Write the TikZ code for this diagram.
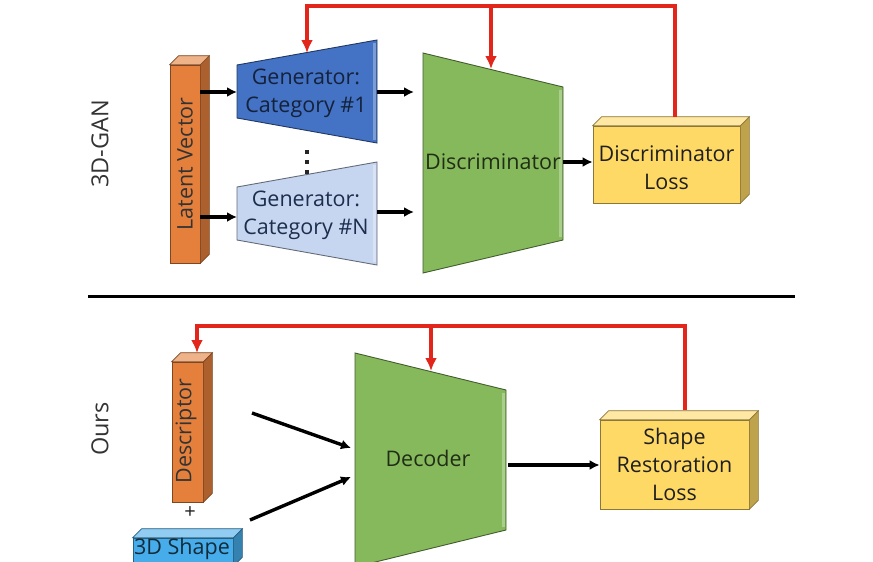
\documentclass[tikz,border=0pt]{standalone}
\usepackage{fontspec}
\setmainfont{Open Sans}
\usetikzlibrary{arrows.meta}
\definecolor{orng}{HTML}{E5803C}
\definecolor{genA}{HTML}{4472C4}
\definecolor{genB}{HTML}{C7D6F0}
\definecolor{grn}{HTML}{86B95B}
\definecolor{ylw}{HTML}{FFD966}
\definecolor{shp}{HTML}{47ACEA}
\definecolor{fbred}{HTML}{E2261C}

\begin{document}
\begin{tikzpicture}[
  x=1pt, y=-1pt,
  every node/.style={font=\fontsize{21.5}{28}\selectfont, text=black!88},
  face/.style={draw=#1!55!black, fill=#1, line width=0.7pt, inner sep=0pt},
  trap/.style={draw=#1!50!black, fill=#1, line width=0.9pt, line join=miter},
  bevel/.style={draw=#1!70!white, line width=2.2pt},
  flow/.style={-{Latex[length=10pt,width=10pt]}, line width=3.4pt},
  fb/.style={-{Latex[length=13pt,width=12pt]}, line width=3.6pt, draw=fbred},
  lbl/.style={rotate=90, text=black!80}
  ]
  \clip (0,0) rectangle (873,562);
  \fill[white] (0,0) rectangle (873,562);

  \node[face=orng, minimum width=30, minimum height=198] (LV) at (185,164) {};
  \node[face=ylw, minimum width=147, minimum height=77] (DL) at (666.5,164.5) {};
  \node[face=orng, minimum width=31, minimum height=140] (DS) at (187.5,432) {};
  \node[face=shp, minimum width=100, minimum height=28] (SH) at (183,552) {};
  \node[face=ylw, minimum width=149, minimum height=89] (SR) at (674.5,464.5) {};

  \foreach \n/\c in {LV/orng, DL/ylw, DS/orng, SH/shp, SR/ylw} {
    \filldraw[draw=\c!55!black, fill=\c!75!black, line width=0.7pt]
      (\n.north east) -- ++(9,-9) -- ([shift={(9,-9)}]\n.south east) -- (\n.south east) -- cycle;
    \filldraw[draw=\c!55!black, fill=\c!60!white, line width=0.7pt]
      (\n.north west) -- ++(9,-9) -- ([shift={(9,-9)}]\n.north east) -- (\n.north east) -- cycle;
  }

  \draw[trap=genA] (237,65) -- (377,40) -- (377,143) -- (237,118) -- cycle;
  \draw[bevel=genA] (374.5,43) -- (374.5,140);
  \draw[trap=genB] (237,187) -- (377,162) -- (377,265) -- (237,240) -- cycle;
  \draw[bevel=genB] (374.5,165) -- (374.5,262);
  \draw[trap=grn] (423,53) -- (563,87) -- (563,240) -- (423,273) -- cycle;
  \draw[bevel=grn] (560.5,90) -- (560.5,237);
  \draw[trap=grn] (355,353) -- (506,390) -- (506,530) -- (355,567) -- cycle;
  \draw[bevel=grn] (503.5,393) -- (503.5,527);

  \foreach \y in {152,162,172}
    \fill[black!85] (304.8,\y-2.3) rectangle ++(4.6,4.6);

  \node[lbl] (LVt) at (185,164) {Latent Vector};
  \node[align=center, text=genA!30!black] (G1) at (306,93) {Generator:\\Category \#1};
  \node[align=center, text=genA!40!black] (GN) at (306,215) {Generator:\\Category \#N};
  \node[text=grn!25!black] (D) at (493,162) {Discriminator};
  \node[align=center] (DLt) at (666.5,168) {Discriminator\\Loss};
  \node[lbl, font=\fontsize{23.5}{28}\selectfont] (GAN) at (100,144) {3D-GAN};

  \node[lbl] (DSt) at (186,431) {Descriptor};
  \node[font=\fontsize{20}{20}\selectfont] (Plus) at (190,513) {+};
  \node[text=shp!25!black] (SHt) at (182,549) {3D Shape};
  \node[text=grn!25!black] (Dec) at (428,458) {Decoder};
  \node[align=center] (SRt) at (674.5,464) {Shape\\Restoration\\Loss};
  \node[lbl, font=\fontsize{23.5}{28}\selectfont] (Ours) at (100,429) {Ours};

  \coordinate (G1in) at (237,92);
  \coordinate (GNin) at (237,217);
  \coordinate (G1out) at (377,92);
  \coordinate (GNout) at (377,212);
  \coordinate (D1in) at (414,92);
  \coordinate (D2in) at (414,212);
  \coordinate (Dout) at (563,162);
  \coordinate (DLtop) at (675,117);
  \coordinate (FBtop) at (675,6);
  \coordinate (G1fb) at (307,53);
  \coordinate (Dfb) at (491,69);
  \coordinate (SepL) at (88,296);
  \coordinate (SepR) at (795,296);
  \coordinate (DSa) at (252,413);
  \coordinate (SHa) at (250,520);
  \coordinate (Dec1) at (351,448);
  \coordinate (Dec2) at (351,477);
  \coordinate (Decout) at (508,465);
  \coordinate (SRtop) at (685,410);
  \coordinate (FBbot) at (685,326);
  \coordinate (DSfb) at (197,353);
  \coordinate (Decfb) at (431,371);

  \draw[flow] (LV.east |- G1in) -- (G1in);
  \draw[flow] (LV.east |- GNin) -- (GNin);
  \draw[flow] (G1out) -- (D1in);
  \draw[flow] (GNout) -- (D2in);
  \draw[flow] (Dout) -- (DL.west |- Dout);
  \draw[fb] (DLtop) -- (FBtop) -| (G1fb);
  \draw[fb] (Dfb |- FBtop) -- (Dfb);

  \draw[line width=3pt] (SepL) -- (SepR);

  \draw[flow] (DSa) -- (Dec1);
  \draw[flow] (SHa) -- (Dec2);
  \draw[flow] (Decout) -- (SR.west |- Decout);
  \draw[fb] (SRtop) -- (FBbot) -| (DSfb);
  \draw[fb] (Decfb |- FBbot) -- (Decfb);
\end{tikzpicture}
\end{document}
